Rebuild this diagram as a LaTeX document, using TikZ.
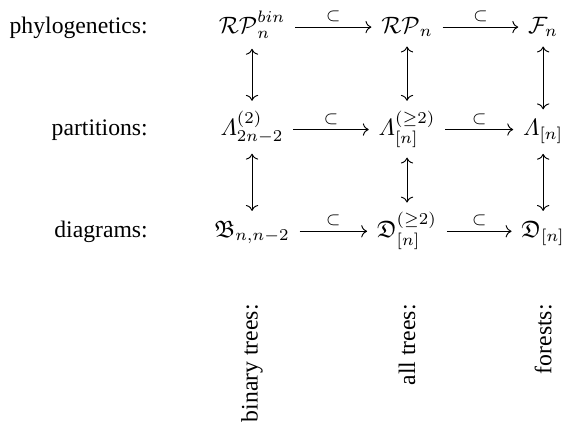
\documentclass[tikz,border=0pt]{standalone}
\usepackage{amsmath,amssymb}
\usepackage[no-math]{fontspec}
\setmainfont{LiberationSerif-Regular.ttf}
\usetikzlibrary{arrows.meta}
\tikzset{
  rowlabel/.style={anchor=base east, inner sep=0pt, font=\rmfamily},
  entry/.style={anchor=base, inner xsep=4pt, inner ysep=2.5pt},
  collabel/.style={rotate=90, anchor=east, inner sep=0pt, font=\rmfamily},
  incl/.style={-{Computer Modern Rightarrow}, line width=0.4pt},
  corr/.style={{Computer Modern Rightarrow}-{Computer Modern Rightarrow},
               line width=0.4pt, shorten <=1.5pt, shorten >=1.5pt},
}
\begin{document}
\begin{tikzpicture}
\useasboundingbox (0,0) rectangle (8.34,6.31);
% row labels on the left
\foreach \t/\y [count=\i] in {phylogenetics:/5.82, partitions:/4.30, diagrams:/2.79}
  \node[rowlabel] (lab\i) at (2.20,\y) {\t};
% phylogenetics row
\node[entry] (phy1) at (3.74,5.82) {$\mathcal{RP}_n^{bin}$};
\node[entry] (phy2) at (6.04,5.82) {$\mathcal{RP}_n$};
\node[entry] (phy3) at (8.06,5.82) {$\mathcal{F}_n$};
% partitions row
\node[entry] (par1) at (3.74,4.30) {$\varLambda_{2n-2}^{(2)}$};
\node[entry] (par2) at (6.04,4.30) {$\varLambda_{[n]}^{(\geq 2)}$};
\node[entry] (par3) at (8.06,4.30) {$\varLambda_{[n]}$};
% diagrams row
\node[entry] (dia1) at (3.74,2.79) {$\mathfrak{B}_{n,n-2}$};
\node[entry] (dia2) at (6.04,2.79) {$\mathfrak{D}_{[n]}^{(\geq 2)}$};
\node[entry] (dia3) at (8.06,2.79) {$\mathfrak{D}_{[n]}$};
% column labels, turned upright
\foreach \t/\x [count=\i] in {binary trees:/3.74, all trees:/6.04, forests:/8.06}
  \node[collabel] (col\i) at (\x,1.80) {\t};
% inclusions along each row
\foreach \r in {phy,par,dia} {
  \draw[incl] ([yshift=2.5pt]\r1.base east) --
    node[above=2pt, inner sep=0pt] {$\scriptstyle\subset$} ([yshift=2.5pt]\r2.base west);
  \draw[incl] ([yshift=2.5pt]\r2.base east) --
    node[above=2pt, inner sep=0pt] {$\scriptstyle\subset$} ([yshift=2.5pt]\r3.base west);
}
% correspondences down each column
\foreach \c in {1,2,3} {
  \draw[corr] (phy\c) -- (par\c);
  \draw[corr] (par\c) -- (dia\c);
}
\end{tikzpicture}
\end{document}
